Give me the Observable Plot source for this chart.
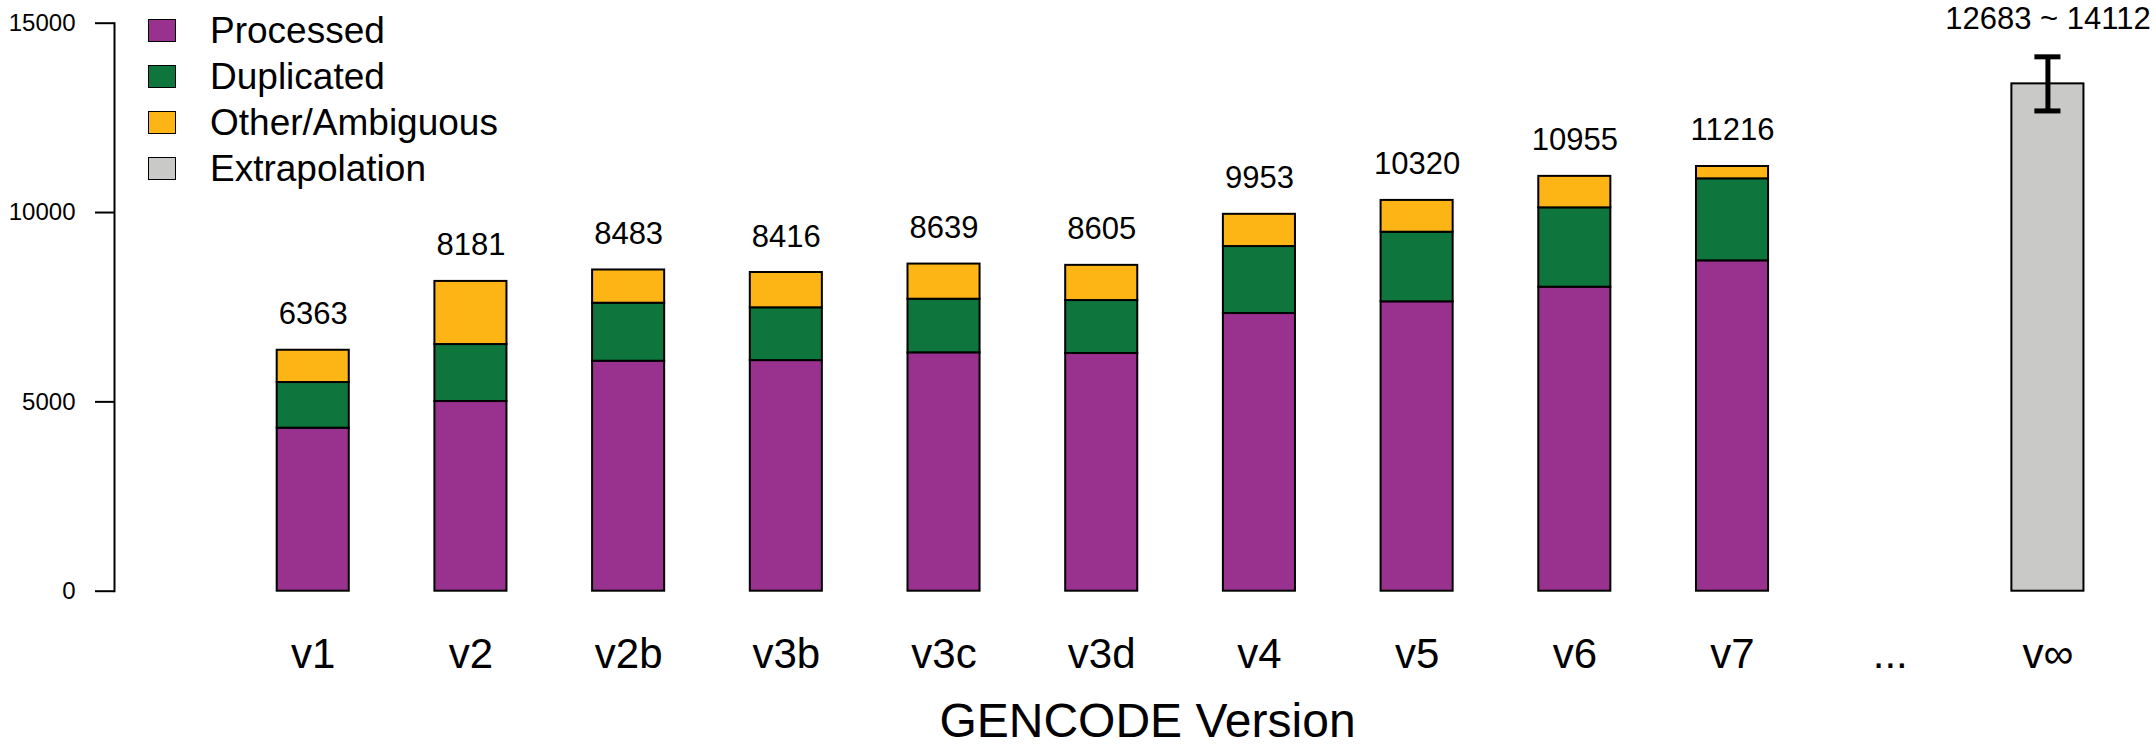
<!DOCTYPE html>
<html>
<head>
<meta charset="utf-8">
<script src="https://cdn.jsdelivr.net/npm/d3@7"></script>
<script src="https://cdn.jsdelivr.net/npm/@observablehq/plot@0.6"></script>
<style>
  html, body { margin: 0; padding: 0; background: #fff; }
  #wrap { position: relative; width: 2156px; height: 747px; font-family: "Liberation Sans", Arial, Helvetica, sans-serif; }
  #legend { position: absolute; left: 148px; top: 8px; }
  .row { display: flex; align-items: center; height: 45.8px; }
  .sw { width: 26px; height: 21px; border: 1.5px solid #000; margin-right: 34px; }
  .lab { font-size: 37px; color: #000; line-height: 1; }
</style>
</head>
<body>
<div id="wrap"><div id="legend"></div></div>
<script>
// ---- data ----
const versions   = ["v1","v2","v2b","v3b","v3c","v3d","v4","v5","v6","v7"];
const processed  = [4305, 5009, 6073, 6090, 6295, 6277, 7333, 7642, 8028, 8724];
const duplicated = [1206, 1505, 1532, 1394, 1416, 1399, 1769, 1838, 2096, 2166];
const other      = [852, 1667, 878, 932, 928, 929, 851, 840, 831, 326];
const totals     = [6363, 8181, 8483, 8416, 8639, 8605, 9953, 10320, 10955, 11216];
const xLabels    = [...versions, "...", "v\u221E"];
const extrapLabel = "v\u221E";
const extrapValue = 13398;
const extrapLow   = 12683;
const extrapHigh  = 14112;
const categories = ["Processed", "Duplicated", "Other/Ambiguous", "Extrapolation"];
const colors     = ["#99318f", "#0e753d", "#fdb415", "#c9c9c7"];
const yTicks     = [0, 5000, 10000, 15000];

// ---- tables ----
const stacked = [];
versions.forEach((v, i) => {
  stacked.push({version: v, type: "Processed", value: processed[i]});
  stacked.push({version: v, type: "Duplicated", value: duplicated[i]});
  stacked.push({version: v, type: "Other/Ambiguous", value: other[i]});
});
const totalRows = versions.map((v, i) => ({version: v, total: totals[i]}));
const extrap = [{version: extrapLabel, value: extrapValue, low: extrapLow, high: extrapHigh,
                 text: `${extrapLow} ~ ${extrapHigh}`}];

const W = 2156, H = 747;
const chart = Plot.plot({
  width: W, height: H,
  marginTop: 22.7, marginBottom: H - 590.7, marginLeft: 114, marginRight: 0,
  style: {fontFamily: "Liberation Sans, Arial, Helvetica, sans-serif", color: "#000", background: "transparent"},
  x: {domain: xLabels, range: [197.85, 2162.3], paddingInner: 0.543, paddingOuter: 0.5, align: 0.5, round: false, label: null},
  y: {domain: [0, 15000], label: null},
  color: {domain: categories, range: colors},
  marks: [
    Plot.frame({anchor: "left", strokeWidth: 2, stroke: "#000"}),
    Plot.axisY({ticks: yTicks, tickSize: 19, tickPadding: 20, fontSize: 24, strokeWidth: 2,
                tickFormat: d => String(d), label: null}),
    Plot.axisX({tickSize: 0, tickPadding: 47, fontSize: 42, label: null}),
    Plot.barY(stacked, Plot.stackY({x: "version", y: "value", fill: "type", stroke: "#000", strokeWidth: 2})),
    Plot.barY(extrap, {x: "version", y: "value", fill: colors[3], stroke: "#000", strokeWidth: 2}),
    Plot.ruleX(extrap, {x: "version", y1: "low", y2: "high", stroke: "#000", strokeWidth: 5}),
    Plot.tickY(extrap, {x: "version", y: "low", stroke: "#000", strokeWidth: 5, insetLeft: 23, insetRight: 23}),
    Plot.tickY(extrap, {x: "version", y: "high", stroke: "#000", strokeWidth: 5, insetLeft: 23, insetRight: 23}),
    Plot.text(totalRows, {x: "version", y: "total", text: d => String(d.total), lineAnchor: "bottom", dy: -26, fontSize: 31, fill: "#000"}),
    Plot.text(extrap, {x: "version", y: "high", text: "text", lineAnchor: "bottom", dy: -28, fontSize: 31, fill: "#000"}),
    Plot.text(["GENCODE Version"], {frameAnchor: "bottom", lineAnchor: "bottom", dy: 146, dx: 12, fontSize: 48, fill: "#000"})
  ]
});
document.getElementById("wrap").prepend(chart);

// ---- legend ----
const leg = d3.select("#legend");
categories.forEach((c, i) => {
  const row = leg.append("div").attr("class", "row");
  row.append("div").attr("class", "sw").style("background", colors[i]);
  row.append("div").attr("class", "lab").text(c);
});
</script>
</body>
</html>
